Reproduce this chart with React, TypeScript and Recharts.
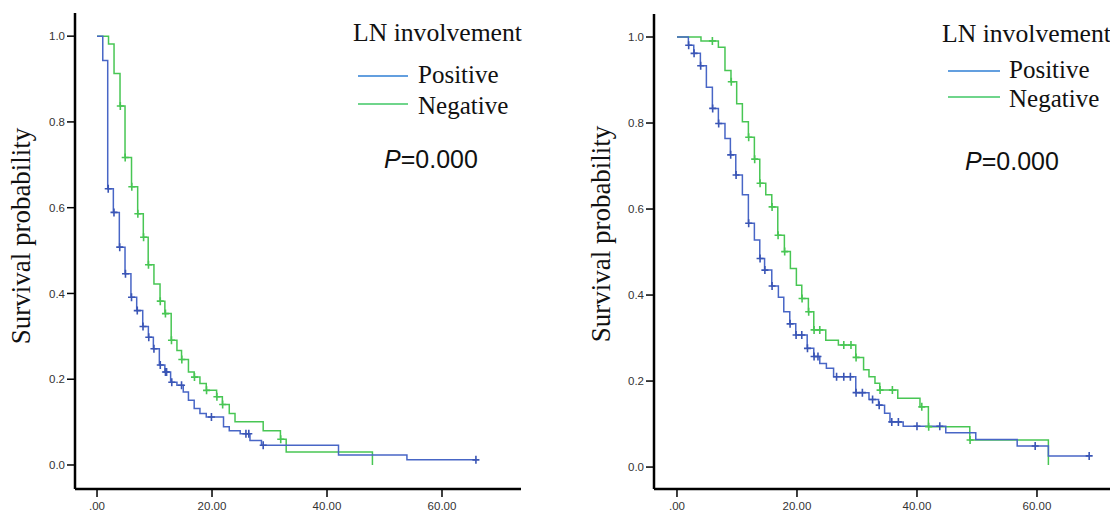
import React from 'react';
import { ComposedChart, Line, Scatter, XAxis, YAxis } from 'recharts';

// left panel — step times / survival after step
const leftPosT = [0, 1.0, 1.86, 2.84, 3.88, 4.87, 5.9, 6.9, 7.95, 8.93, 9.8, 10.84, 11.8, 12.8, 13.9, 15.0, 15.9, 16.9, 17.9, 19.0, 22.0, 23.0, 24.9, 26.6, 28.6, 42.0, 53.9, 65.9];
const leftPosS = [1.0, 0.943, 0.644, 0.589, 0.508, 0.446, 0.391, 0.36, 0.323, 0.298, 0.271, 0.233, 0.217, 0.193, 0.186, 0.17, 0.151, 0.132, 0.12, 0.112, 0.089, 0.08, 0.073, 0.057, 0.046, 0.023, 0.012, 0.012];
const leftPosCensor = [1.95, 2.95, 3.95, 4.95, 6.0, 7.0, 8.0, 9.0, 9.9, 11.0, 11.9, 12.1, 13.0, 14.7, 19.9, 25.9, 26.4, 28.9, 65.9];

const leftNegT = [0, 2.0, 2.96, 4.0, 4.87, 6.0, 7.07, 8.05, 8.9, 9.9, 10.96, 11.8, 12.9, 13.9, 14.7, 15.9, 16.9, 17.9, 19.0, 20.8, 21.8, 23.0, 24.0, 28.9, 31.9, 32.9, 47.9];
const leftNegS = [1.0, 0.982, 0.913, 0.837, 0.717, 0.649, 0.586, 0.531, 0.467, 0.422, 0.382, 0.353, 0.291, 0.267, 0.246, 0.217, 0.205, 0.19, 0.174, 0.159, 0.141, 0.12, 0.101, 0.08, 0.06, 0.03, 0.0];
const leftNegCensor = [4.05, 4.9, 6.05, 7.1, 8.1, 8.95, 11.0, 11.9, 12.95, 14.75, 16.95, 19.05, 20.85, 21.85, 31.95];

// right panel
const rightPosT = [0, 1.9, 2.8, 3.9, 4.9, 5.9, 6.9, 8.0, 8.9, 9.8, 10.9, 11.9, 12.9, 13.8, 14.6, 15.8, 16.9, 17.8, 18.8, 19.8, 21.7, 22.8, 23.8, 24.9, 26.1, 29.8, 32.0, 33.6, 34.6, 35.5, 37.7, 44.8, 49.8, 56.7, 61.9, 68.7];
const rightPosS = [1.0, 0.981, 0.962, 0.933, 0.883, 0.834, 0.799, 0.764, 0.726, 0.679, 0.633, 0.567, 0.528, 0.485, 0.458, 0.421, 0.395, 0.361, 0.333, 0.307, 0.276, 0.257, 0.241, 0.23, 0.21, 0.173, 0.157, 0.144, 0.125, 0.105, 0.095, 0.08, 0.064, 0.049, 0.026, 0.026];
const rightPosCensor = [1.95, 2.85, 3.95, 5.95, 6.95, 8.95, 9.85, 11.95, 13.85, 14.65, 15.85, 18.85, 19.85, 20.8, 21.75, 22.85, 23.5, 26.6, 27.8, 28.9, 29.85, 30.9, 32.6, 33.7, 35.8, 36.9, 40.0, 43.8, 59.7, 68.7];

const rightNegT = [0, 4.0, 6.9, 8.0, 9.0, 9.95, 10.9, 11.9, 12.9, 13.8, 14.8, 15.8, 16.8, 17.9, 18.9, 19.9, 20.8, 21.9, 22.8, 24.8, 26.9, 29.8, 31.1, 32.0, 33.0, 33.8, 36.8, 40.5, 41.9, 48.8, 61.9];
const rightNegS = [1.0, 0.991, 0.976, 0.922, 0.896, 0.845, 0.803, 0.767, 0.716, 0.66, 0.633, 0.605, 0.539, 0.501, 0.462, 0.423, 0.392, 0.361, 0.319, 0.295, 0.284, 0.255, 0.226, 0.21, 0.195, 0.179, 0.16, 0.14, 0.094, 0.063, 0.005];
const rightNegCensor = [5.9, 9.05, 11.95, 12.95, 13.85, 15.85, 16.85, 17.95, 20.85, 21.95, 22.85, 23.8, 27.8, 29.0, 29.85, 33.85, 35.9, 40.8, 41.95, 48.85];

const xTicks = [0, 20, 40, 60];
const yTicks = [0, 0.2, 0.4, 0.6, 0.8, 1.0];

const BLUE = '#4866c6';
const GREEN = '#48c654';
const LEG_BLUE = '#2f7fd4';
const LEG_GREEN = '#3fc764';

const toSteps = (ts: number[], ss: number[]) => ts.map((t, i) => ({ t, s: ss[i] }));
const survAt = (ts: number[], ss: number[], t: number) => {
  let v = ss[0];
  for (let i = 0; i < ts.length; i++) if (ts[i] <= t) v = ss[i];
  return v;
};
const toCensor = (ts: number[], ss: number[], cs: number[]) => cs.map((t) => ({ t, s: survAt(ts, ss, t) }));

const Plus = (color: string) => (props: any) => {
  const { cx, cy } = props;
  if (cx == null || cy == null) return null;
  return (
    <path d={`M${cx - 3.5},${cy} H${cx + 3.5} M${cx},${cy - 4} V${cy + 4}`} stroke={color} strokeWidth={1.6} fill="none" />
  );
};

const xFmt = (v: number) => (v === 0 ? '.00' : v.toFixed(2));
const yFmt = (v: number) => v.toFixed(1);
const tickStyle = { fontSize: 11.5, fill: '#333', fontFamily: 'Liberation Sans, Arial, sans-serif' };

type PanelProps = {
  left: number; width: number; margin: any; xDomain: number[]; yDomain: number[];
  pos: { t: number; s: number }[]; neg: { t: number; s: number }[];
  posC: { t: number; s: number }[]; negC: { t: number; s: number }[];
};

const Panel = ({ left, width, margin, xDomain, yDomain, pos, neg, posC, negC }: PanelProps) => (
  <div style={{ position: 'absolute', left, top: 0 }}>
    <ComposedChart width={width} height={514} margin={margin}>
      <XAxis
        type="number" dataKey="t" domain={xDomain} allowDataOverflow ticks={xTicks}
        tickFormatter={xFmt} height={25} tickSize={8} tickMargin={5}
        axisLine={{ stroke: '#000', strokeWidth: 2.5 }} tickLine={{ stroke: '#000', strokeWidth: 1.5 }} tick={tickStyle}
      />
      <YAxis
        type="number" dataKey="s" domain={yDomain} allowDataOverflow ticks={yTicks}
        tickFormatter={yFmt} width={35} tickSize={8} tickMargin={2}
        axisLine={{ stroke: '#000', strokeWidth: 2.5 }} tickLine={{ stroke: '#000', strokeWidth: 1.5 }} tick={tickStyle}
      />
      <Line data={neg} dataKey="s" type="stepAfter" stroke={GREEN} strokeWidth={1.5} dot={false} activeDot={false} isAnimationActive={false} />
      <Line data={pos} dataKey="s" type="stepAfter" stroke={BLUE} strokeWidth={1.5} dot={false} activeDot={false} isAnimationActive={false} />
      <Scatter data={negC} dataKey="s" shape={Plus(GREEN)} isAnimationActive={false} />
      <Scatter data={posC} dataKey="s" shape={Plus('#3a55b5')} isAnimationActive={false} />
    </ComposedChart>
  </div>
);

const serif = 'Liberation Serif, Times New Roman, serif';
const sans = 'Liberation Sans, Arial, sans-serif';

const Legend = ({ x, lnY, lineX1, lineX2, textX, posY, negY, pX, pY }: any) => (
  <g>
    <text x={x} y={lnY} fontFamily={serif} fontSize={25} fill="#111" textLength={169} lengthAdjust="spacingAndGlyphs">LN involvement</text>
    <line x1={lineX1} x2={lineX2} y1={posY - 7} y2={posY - 7} stroke={LEG_BLUE} strokeWidth={1.5} />
    <text x={textX} y={posY} fontFamily={serif} fontSize={25} fill="#111">Positive</text>
    <line x1={lineX1} x2={lineX2} y1={negY - 10} y2={negY - 10} stroke={LEG_GREEN} strokeWidth={1.5} />
    <text x={textX} y={negY} fontFamily={serif} fontSize={25} fill="#111">Negative</text>
    <text x={pX} y={pY} fontFamily={sans} fontSize={25} fill="#111">
      <tspan fontStyle="italic">P</tspan>=0.000
    </text>
  </g>
);

export default function App() {
  return (
    <div style={{ position: 'absolute', left: 0, top: 0, width: 1110, height: 514, background: '#fff', overflow: 'hidden' }}>
      <Panel
        left={0} width={560} margin={{ top: 13, right: 39, bottom: 0, left: 40 }}
        xDomain={[-3.83, 73.74]} yDomain={[-0.056, 1.054]}
        pos={toSteps(leftPosT, leftPosS)} neg={toSteps(leftNegT, leftNegS)}
        posC={toCensor(leftPosT, leftPosS, leftPosCensor)} negC={toCensor(leftNegT, leftNegS, leftNegCensor)}
      />
      <Panel
        left={560} width={550} margin={{ top: 14, right: 0, bottom: 0, left: 59 }}
        xDomain={[-3.83, 72.17]} yDomain={[-0.051, 1.0535]}
        pos={toSteps(rightPosT, rightPosS)} neg={toSteps(rightNegT, rightNegS)}
        posC={toCensor(rightPosT, rightPosS, rightPosCensor)} negC={toCensor(rightNegT, rightNegS, rightNegCensor)}
      />
      <svg width={1110} height={514} style={{ position: 'absolute', left: 0, top: 0, pointerEvents: 'none' }}>
        <text transform="translate(30,236) rotate(-90)" textAnchor="middle" fontFamily={serif} fontSize={27} fill="#111">Survival probability</text>
        <text transform="translate(610,234) rotate(-90)" textAnchor="middle" fontFamily={serif} fontSize={27} fill="#111">Survival probability</text>
        <Legend x={353} lnY={41} lineX1={358} lineX2={408} textX={418} posY={83} negY={114} pX={384} pY={168} />
        <Legend x={942} lnY={42} lineX1={948} lineX2={1000} textX={1009} posY={78} negY={107} pX={965} pY={170} />
      </svg>
    </div>
  );
}
